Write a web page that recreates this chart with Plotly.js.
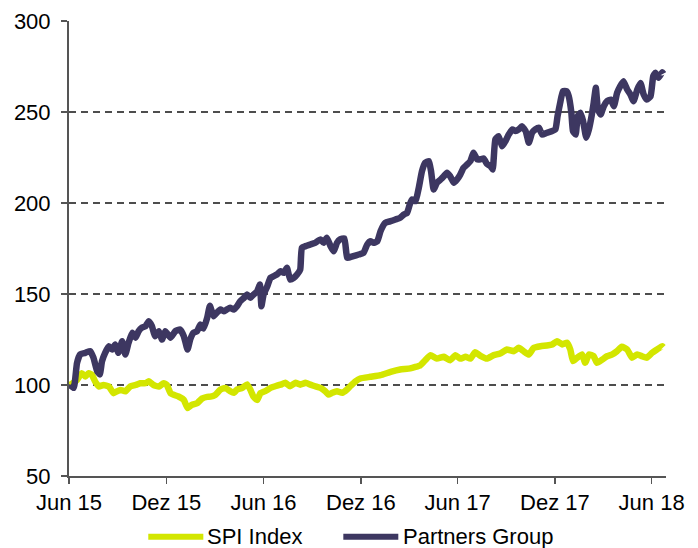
<!DOCTYPE html>
<html>
<head>
<meta charset="utf-8">
<script src="https://cdn.plot.ly/plotly-3.0.1.min.js"></script>
<style>html,body{margin:0;padding:0;background:#fff;}#chart{width:698px;height:548px;}</style>
</head>
<body>
<div id="chart"></div>
<script>
// Dates are given as days since 1 June 2015
const startDate = Date.UTC(2015, 5, 1);

const partnersDay = [2,9,15,21,31,40,46,53,58,62,68,75,81,87,93,100,106,112,119,125,131,137,144,150,156,162,169,175,181,191,200,209,216,223,228,234,241,247,253,260,265,272,278,285,291,297,303,310,316,322,329,335,341,347,354,359,362,366,373,379,385,391,398,404,410,416,423,429,435,438,445,454,463,473,479,485,492,498,504,510,518,523,526,535,545,554,561,567,573,580,586,595,605,614,623,630,636,641,645,652,658,664,670,677,681,686,692,699,705,711,717,724,730,736,742,749,755,761,768,774,780,786,793,797,802,808,815,821,827,834,840,846,852,859,865,871,877,884,890,899,909,915,919,924,929,936,940,945,948,953,957,962,967,973,978,983,987,991,995,1000,1006,1012,1019,1025,1031,1037,1043,1050,1056,1062,1069,1075,1081,1087,1094,1099,1103,1109,1116,1118];
const partnersValue = [100,98.4,112,116.8,117.7,118.6,115,107.6,105.8,113,117.7,121.3,119.5,122.3,117.7,124.1,116.8,123.2,128.7,126,129.6,131.5,132.3,135,132.3,126.8,129.6,125,129.6,126,129.6,130.5,126.8,119.5,125,128.7,129.6,133.2,131,137,143.5,137.8,139.7,141.5,140.5,141.5,142.4,141.5,143.3,146,147.9,149.7,147.9,149.7,151.5,155.2,143.3,149.7,154.3,158.9,159.8,160.7,162.5,161.6,164.4,158,158.9,160.7,163.5,175.4,176.3,177.2,178.1,180,178.1,180.9,176.3,173.5,178.1,180,180.5,170,170,170.8,171.7,172.6,177.2,179,178.1,179,184.5,189.1,190,190.9,191.9,193.7,194.6,199.2,201.9,201,208.4,217.5,222.1,223,217.5,207.4,211.1,212.9,214.7,216.6,214.7,211.1,212.9,215.6,219.3,221.2,223,227.6,223.9,224,224.5,221.5,220.2,218.4,234.9,236.7,231.2,234,237.6,240.4,239.5,240.4,242.2,239.5,233.1,238.6,240.4,241.3,237.6,238.6,239.5,240.4,247.7,255.1,261.4,261.4,258.7,249.6,239.5,237.6,247.7,249.6,245,235.8,240.4,247.7,255.1,263.3,251.4,248.6,253.2,255.9,256.8,253.2,260.5,264.2,266.9,262.4,259.6,255.9,262.4,266,259.6,256.8,258.7,269.7,271.5,268.8,271.9,271];

const spiDay = [2,15,24,31,37,43,49,56,65,75,84,90,97,106,115,125,134,144,150,159,169,178,184,191,197,206,216,223,231,241,250,260,266,275,285,294,303,310,316,326,335,341,347,354,360,369,379,388,398,407,416,426,435,445,454,463,473,482,488,495,504,514,523,529,539,548,567,586,605,623,642,661,670,680,692,705,717,727,736,746,755,764,774,786,799,811,824,837,846,855,865,874,887,899,909,918,928,937,943,948,956,965,971,978,987,993,1003,1012,1022,1031,1040,1050,1059,1069,1078,1087,1097,1106,1116,1118];
const spiValue = [100,102.8,106.5,104.7,106.5,105.6,102,99.2,100,99.2,95.5,96.5,97.3,96.5,99.2,100,101,101,102,100,99.2,101,100,95.5,94.6,93.7,91.8,87.3,89.1,90,92.5,93.5,93.6,94.5,97.5,98.4,96.6,95.7,97.5,98.4,100.3,97.5,93.6,91.8,95.5,96.6,98.4,99.3,100.2,101.2,99.3,101.2,100.2,101.2,100.2,99.3,98.4,96.6,94.8,95.7,96.6,95.7,97.5,99.3,102,103.6,104.5,105.4,107.2,108.5,109.1,110.9,113.6,116.4,114.5,115.5,113.6,116.4,114.5,115.5,114.5,118,116,114.5,116.4,117.3,119.5,118.6,120.4,118.6,116.7,120.4,121.3,121.7,122.3,124.1,122.3,123.2,119.5,113.1,115,116.8,112.2,116.8,115.8,112.2,114,115.8,116.8,118.6,121,119.5,115,116.8,115.8,115,117.7,119.5,121.3,120.8];

const seriesNames = ['SPI Index', 'Partners Group'];
const seriesColors = ['#d3e600', '#3d3761'];

const tickDates = ['2015-06-01','2015-12-01','2016-06-01','2016-12-01','2017-06-01','2017-12-01','2018-06-01'];
const tickLabels = ['Jun 15','Dez 15','Jun 16','Dez 16','Jun 17','Dez 17','Jun 18'];
const yTicks = [50,100,150,200,250,300];

const toDate = d => new Date(startDate + d * 86400000).toISOString().slice(0,10);

const FONT = 'Liberation Sans, Arial, sans-serif';

const traces = [
  {x: spiDay.map(toDate), y: spiValue, name: seriesNames[0], type: 'scatter', mode: 'lines',
   line: {color: seriesColors[0], width: 6.5, shape: 'spline', smoothing: 0.4}},
  {x: partnersDay.map(toDate), y: partnersValue, name: seriesNames[1], type: 'scatter', mode: 'lines',
   line: {color: seriesColors[1], width: 6.5, shape: 'spline', smoothing: 0.4}}
];

// Legend drawn below the plot (line sample + label) in paper coordinates
const legendY = -0.1334;
const legendItems = [
  {x0: 0.1328, x1: 0.2250, tx: 0.2300},
  {x0: 0.4595, x1: 0.5516, tx: 0.5575}
];
const shapes = legendItems.map((it, i) => ({
  type: 'line', xref: 'paper', yref: 'paper', x0: it.x0, x1: it.x1, y0: legendY, y1: legendY,
  line: {color: seriesColors[i], width: 6}, layer: 'above'
}));
const annotations = legendItems.map((it, i) => ({
  xref: 'paper', yref: 'paper', x: it.tx, y: legendY, xanchor: 'left', yanchor: 'middle',
  text: seriesNames[i], showarrow: false, borderpad: 0,
  font: {family: FONT, size: 22, color: '#000'}
}));

const layout = {
  width: 698, height: 548,
  margin: {l: 69, r: 32, t: 21, b: 72, autoexpand: false},
  paper_bgcolor: '#fff', plot_bgcolor: '#fff',
  font: {family: FONT, size: 22, color: '#000'},
  showlegend: false,
  shapes: shapes,
  annotations: annotations,
  xaxis: {type: 'date', range: ['2015-06-01', '2018-06-28'],
          tickvals: tickDates, ticktext: tickLabels,
          showgrid: false, zeroline: false,
          showline: true, linecolor: '#555', linewidth: 2,
          ticks: 'outside', ticklen: 6, tickwidth: 1.5, tickcolor: '#555',
          tickfont: {family: FONT, size: 22, color: '#000'}},
  yaxis: {range: [50, 300], tickvals: yTicks,
          showgrid: true, gridcolor: '#4d4d4d', gridwidth: 2, griddash: '7px,5px',
          zeroline: false, showline: true, linecolor: '#555', linewidth: 2,
          ticks: 'outside', ticklen: 6, tickwidth: 1.5, tickcolor: '#555',
          ticklabelstandoff: 6,
          tickfont: {family: FONT, size: 22, color: '#000'}}
};

Plotly.newPlot('chart', traces, layout, {displayModeBar: false, staticPlot: true});
</script>
</body>
</html>
